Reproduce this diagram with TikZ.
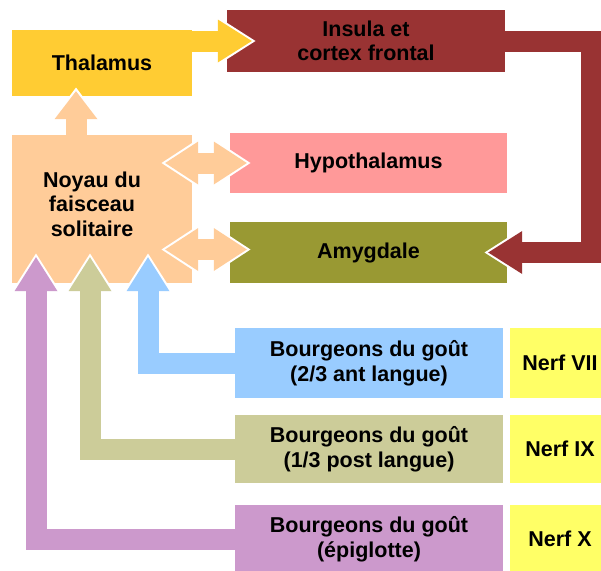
\documentclass[tikz,border=0pt]{standalone}
\usepackage{fontspec}
\setmainfont{Liberation Sans}
\usetikzlibrary{arrows.meta}

% couleurs des boites
\definecolor{thalC}{HTML}{FFCC33}
\definecolor{insulaC}{HTML}{993333}
\definecolor{hypoC}{HTML}{FF9999}
\definecolor{amygC}{HTML}{999933}
\definecolor{noyauC}{HTML}{FFCC99}
\definecolor{bleuC}{HTML}{99CCFF}
\definecolor{oliveC}{HTML}{CCCC99}
\definecolor{violetC}{HTML}{CC99CC}
\definecolor{nerfC}{HTML}{FFFF66}

\tikzset{
  boite/.style={inner sep=0pt, align=center, font=\bfseries\fontsize{21.5}{24.5}\selectfont},
  fleche/.style={line width=21pt, -{Triangle[width=43pt,length=#1,line width=0pt]}},
  fleche/.default=34pt,
  halo/.style={white, line width=25pt, -{Triangle[width=51pt,length=#1,line width=0pt]}, shorten >=-3.7pt},
  halo/.default=40pt,
  fleches/.style={line width=21pt, {Triangle[width=43pt,length=33pt,line width=0pt]}-{Triangle[width=43pt,length=33pt,line width=0pt]}},
  halos/.style={white, line width=25pt, {Triangle[width=51pt,length=39pt,line width=0pt]}-{Triangle[width=51pt,length=39pt,line width=0pt]}, shorten <=-3.7pt, shorten >=-3.7pt}
}

\begin{document}
\begin{tikzpicture}[x=1pt, y=-1pt]
% Cadre de l'image
\useasboundingbox (0,0) rectangle (601,570);
\clip (0,0) rectangle (601,570);
% Thalamus en haut a gauche
\node[boite, fill=thalC, minimum width=180pt, minimum height=66pt] (thal) at (102,63) {Thalamus};
% Insula et cortex frontal en haut a droite
\node[boite, fill=insulaC, minimum width=278pt, minimum height=62pt] (insula) at (366,41) {Insula et\\cortex frontal};
% Hypothalamus et amygdale
\node[boite, fill=hypoC, minimum width=277pt, minimum height=60pt] (hypo) at (368.5,163) {Hypothalamus};
\node[boite, fill=amygC, minimum width=277pt, minimum height=61pt] (amyg) at (368.5,252.5) {Amygdale};
% Noyau du faisceau solitaire (texte un peu a gauche du centre)
\node[boite, fill=noyauC, minimum width=180pt, minimum height=148pt] (noyau) at (102,209) {};
\node[boite] (noyautxt) at (92,204) {Noyau du\\faisceau\\solitaire};
% Bourgeons du gout
\node[boite, fill=bleuC, minimum width=268pt, minimum height=70pt] (bleu) at (369,363) {Bourgeons du goût\\(2/3 ant langue)};
\node[boite, fill=oliveC, minimum width=268pt, minimum height=68pt] (olive) at (369,449) {Bourgeons du goût\\(1/3 post langue)};
\node[boite, fill=violetC, minimum width=268pt, minimum height=68pt] (violet) at (369,539) {Bourgeons du goût\\(épiglotte)};
% Nerfs a droite
\node[boite, fill=nerfC, minimum width=100pt, minimum height=70pt] (nerf7) at (560,363) {Nerf VII};
\node[boite, fill=nerfC, minimum width=100pt, minimum height=68pt] (nerf9) at (560,449) {Nerf IX};
\node[boite, fill=nerfC, minimum width=100pt, minimum height=68pt] (nerf10) at (560,539) {Nerf X};

% Noyau vers Thalamus
\draw[halo=34pt] ([xshift=-26pt]noyau.north) -- ([xshift=-26pt,yshift=5pt]thal.south);
\draw[fleche=28pt, noyauC] ([xshift=-26pt]noyau.north) -- ([xshift=-26pt,yshift=5pt]thal.south);
% Thalamus vers Insula
\draw[halo] (thal.east |- insula.west) -- ([xshift=25pt]insula.west);
\draw[fleche, thalC] (thal.east |- insula.west) -- ([xshift=25pt]insula.west);
% Insula vers Amygdale, par la droite
\draw[halo] (insula.east) -- ++(86,0) |- ([xshift=-19pt]amyg.east);
\draw[fleche, insulaC] (insula.east) -- ++(86,0) |- ([xshift=-19pt]amyg.east);
% Noyau <-> Hypothalamus
\draw[halos] ([xshift=-27pt]noyau.east |- hypo.west) -- ([xshift=17pt]hypo.west);
\draw[fleches, noyauC] ([xshift=-27pt]noyau.east |- hypo.west) -- ([xshift=17pt]hypo.west);
% Noyau <-> Amygdale
\draw[halos] ([xshift=-27pt,yshift=3pt]noyau.east |- amyg.west) -- ([xshift=17pt,yshift=3pt]amyg.west);
\draw[fleches, noyauC] ([xshift=-27pt,yshift=3pt]noyau.east |- amyg.west) -- ([xshift=17pt,yshift=3pt]amyg.west);
% Bourgeons vers Noyau
\draw[halo] (bleu.west) -| ([xshift=46pt,yshift=26pt]noyau.south);
\draw[fleche, bleuC] (bleu.west) -| ([xshift=46pt,yshift=26pt]noyau.south);
\draw[halo] (olive.west) -| ([xshift=-12pt,yshift=26pt]noyau.south);
\draw[fleche, oliveC] (olive.west) -| ([xshift=-12pt,yshift=26pt]noyau.south);
\draw[halo] (violet.west) -| ([xshift=-66pt,yshift=26pt]noyau.south);
\draw[fleche, violetC] (violet.west) -| ([xshift=-66pt,yshift=26pt]noyau.south);
\end{tikzpicture}
\end{document}
